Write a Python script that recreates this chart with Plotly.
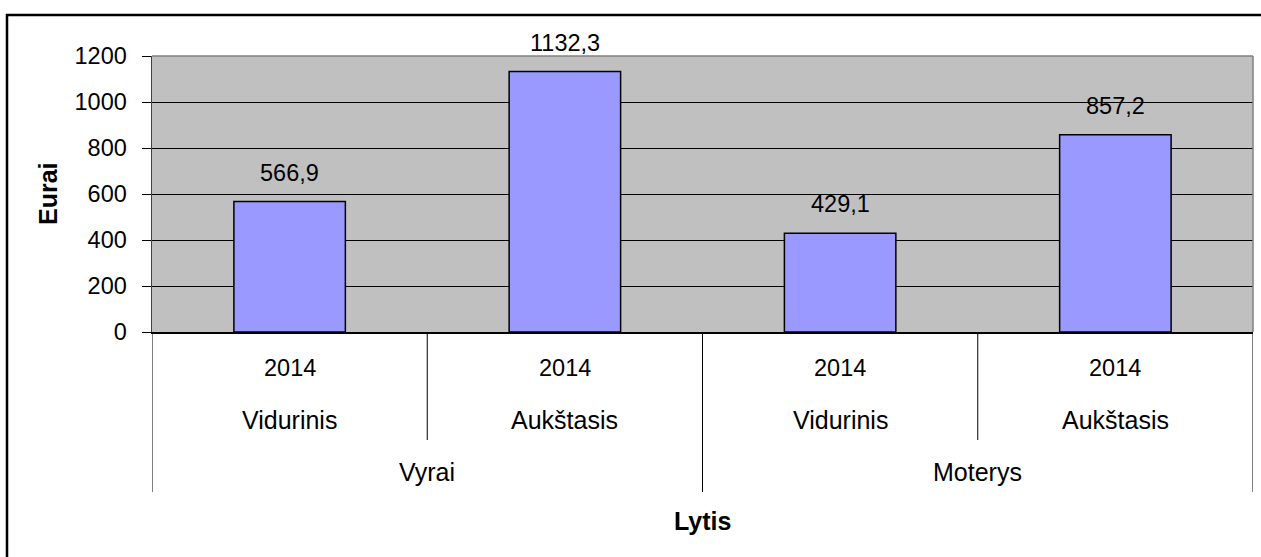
import plotly.graph_objects as go

# ---- data ----
years = ["2014", "2014", "2014", "2014"]
education = ["Vidurinis", "Aukštasis", "Vidurinis", "Aukštasis"]
gender = ["Vyrai", "Moterys"]
gender_span = [2, 2]
values = [566.9, 1132.3, 429.1, 857.2]
y_ticks = [0, 200, 400, 600, 800, 1000, 1200]
y_title = "Eurai"
x_title = "Lytis"

FONT = "Liberation Sans, Arial, sans-serif"
FS = 23.5      # digits
FS_TXT = 25    # word labels

# pixel geometry of the plot area
L, R, T, B = 152, 1253, 56, 332
W, H = 1261, 557
PW, PH = R - L, B - T


def py(pix):
    """pixel y -> paper y"""
    return (B - pix) / PH


def px(pix):
    return (pix - L) / PW


xs = list(range(len(values)))

fig = go.Figure()
fig.add_trace(go.Bar(
    x=xs, y=values, width=0.405,
    marker=dict(color="#9999FF", line=dict(color="#000000", width=1.5)),
    hoverinfo="skip",
))

annotations = []
# data labels
for x, v in zip(xs, values):
    annotations.append(dict(
        x=x, y=v, xref="x", yref="y", text=f"{v:.1f}".replace(".", ","),
        showarrow=False, yanchor="middle", yshift=29,
        font=dict(family=FONT, size=FS, color="#000000")))
# level 1 and 2 labels
for x, yr, ed in zip(xs, years, education):
    annotations.append(dict(x=x, y=0, xref="x", yref="paper", text=yr,
                            showarrow=False, yanchor="middle", yshift=-36,
                            font=dict(family=FONT, size=FS, color="#000000")))
    annotations.append(dict(x=x, y=0, xref="x", yref="paper", text=ed,
                            showarrow=False, yanchor="middle", yshift=-88,
                            font=dict(family=FONT, size=FS_TXT, color="#000000")))
# level 3 labels
start = 0
outer_bounds = [-0.5]
inner_bounds = []
for g, n in zip(gender, gender_span):
    center = start + (n - 1) / 2
    annotations.append(dict(x=center, y=0, xref="x", yref="paper", text=g,
                            showarrow=False, yanchor="middle", yshift=-140,
                            font=dict(family=FONT, size=FS_TXT, color="#000000")))
    for k in range(1, n):
        inner_bounds.append(start + k - 0.5)
    start += n
    outer_bounds.append(start - 0.5)

# axis titles
annotations.append(dict(x=0.5, y=0, xref="paper", yref="paper", text=f"<b>{x_title}</b>",
                        showarrow=False, yanchor="middle", yshift=-189,
                        font=dict(family=FONT, size=FS_TXT, color="#000000")))
annotations.append(dict(x=px(48), y=0.5, xref="paper", yref="paper", text=f"<b>{y_title}</b>",
                        showarrow=False, textangle=-90, xanchor="center", yanchor="middle",
                        font=dict(family=FONT, size=FS_TXT, color="#000000")))

shapes = []
for b in inner_bounds:
    shapes.append(dict(type="line", xref="x", yref="paper", x0=b, x1=b, y0=0, y1=py(440),
                       line=dict(color="#000000", width=1)))
for b in outer_bounds:
    shapes.append(dict(type="line", xref="x", yref="paper", x0=b, x1=b, y0=0, y1=py(492),
                       line=dict(color="#000000", width=1)))
# plot-area border (top & right, gray)
shapes.append(dict(type="line", xref="paper", yref="paper", x0=0, x1=1, y0=1, y1=1,
                   line=dict(color="#808080", width=1.5)))
shapes.append(dict(type="line", xref="paper", yref="paper", x0=1, x1=1, y0=0, y1=1,
                   line=dict(color="#808080", width=1.5)))
# outer chart border (top and left)
shapes.append(dict(type="line", xref="paper", yref="paper", x0=px(6), x1=px(W + 5),
                   y0=py(15), y1=py(15), line=dict(color="#000000", width=2.5)))
shapes.append(dict(type="line", xref="paper", yref="paper", x0=px(7), x1=px(7),
                   y0=py(14), y1=py(H + 5), line=dict(color="#000000", width=2.5)))

fig.update_layout(
    width=W, height=H,
    margin=dict(l=L, r=W - R, t=T, b=H - B, pad=0),
    paper_bgcolor="#FFFFFF", plot_bgcolor="#C0C0C0",
    showlegend=False,
    font=dict(family=FONT, size=FS, color="#000000"),
    annotations=annotations, shapes=shapes,
    xaxis=dict(range=[-0.5, len(values) - 0.5], showticklabels=False, showgrid=False,
               zeroline=False, showline=True, linecolor="#000000", linewidth=2,
               ticks="", fixedrange=True),
    yaxis=dict(range=[0, 1200], tickvals=y_ticks, ticktext=[str(t) for t in y_ticks],
               showgrid=True, gridcolor="#000000", gridwidth=1,
               zeroline=False, showline=True, linecolor="#404040", linewidth=1.5,
               ticks="outside", ticklen=9, tickcolor="#000000", tickwidth=1,
               ticklabelstandoff=10,
               tickfont=dict(family=FONT, size=FS, color="#000000"), fixedrange=True),
)

fig.write_html("out.html", config={"displayModeBar": False, "staticPlot": True},
               post_script="document.body.style.margin='0';document.body.style.overflow='hidden';")
